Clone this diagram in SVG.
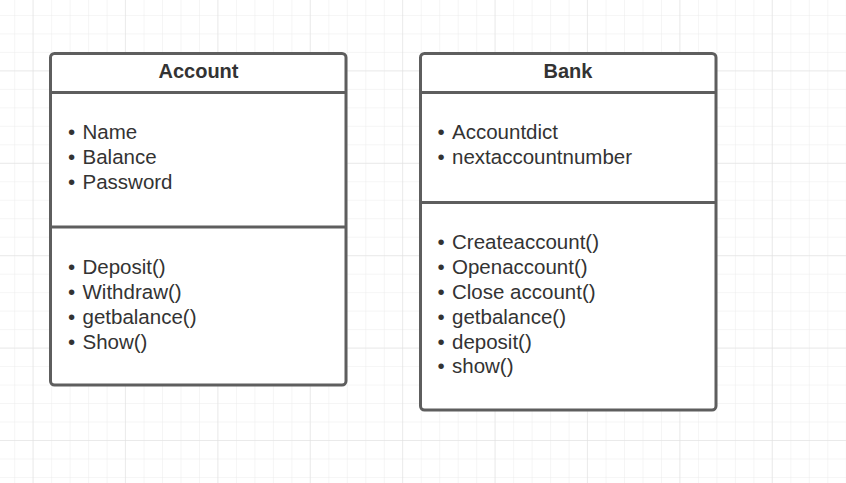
<svg xmlns="http://www.w3.org/2000/svg" width="846" height="483" viewBox="0 0 846 483">
<defs>
<pattern id="minor" patternUnits="userSpaceOnUse" x="14.2" y="14.96" width="18.48" height="18.48">
<path d="M0 0 H18.48 M0 0 V18.48" fill="none" stroke="#ececec" stroke-width="1"/>
</pattern>
<pattern id="major" patternUnits="userSpaceOnUse" x="32.5" y="70.4" width="92.4" height="92.4">
<path d="M0 0 H92.4 M0 0 V92.4" fill="none" stroke="#dfdfdf" stroke-width="1"/>
</pattern>
</defs>
<style>
.box{fill:#ffffff;stroke:#5e5e5e;stroke-width:3}
.div{stroke:#5e5e5e;stroke-width:3}
.title{font-family:"Liberation Sans",Arial,sans-serif;font-size:20px;font-weight:bold;fill:#333333;text-anchor:middle}
.item{font-family:"Liberation Sans",Arial,sans-serif;font-size:20.5px;fill:#333333}
</style>
<rect width="846" height="483" fill="#ffffff"/>
<rect width="846" height="483" fill="url(#minor)"/>
<rect width="846" height="483" fill="url(#major)"/>
<g id="connectors"></g>
<g id="account">
<rect class="box" x="50.5" y="53.5" width="295.5" height="331.5" rx="4"/>
<line class="div" x1="50.5" y1="92.5" x2="346" y2="92.5"/>
<line class="div" x1="50.5" y1="227" x2="346" y2="227"/>
<text class="title" x="198.5" y="77.5">Account</text>
<g class="item">
<text x="68" y="139">•</text><text x="82.5" y="139">Name</text>
<text x="68" y="164">•</text><text x="82.5" y="164">Balance</text>
<text x="68" y="189">•</text><text x="82.5" y="189">Password</text>
<text x="68" y="274">•</text><text x="82.5" y="274">Deposit()</text>
<text x="68" y="299">•</text><text x="82.5" y="299">Withdraw()</text>
<text x="68" y="323.5">•</text><text x="82.5" y="323.5">getbalance()</text>
<text x="68" y="348.5">•</text><text x="82.5" y="348.5">Show()</text>
</g>
</g>
<g id="bank">
<rect class="box" x="420.5" y="53.5" width="295.5" height="356.5" rx="4"/>
<line class="div" x1="420.5" y1="92.5" x2="716" y2="92.5"/>
<line class="div" x1="420.5" y1="202.5" x2="716" y2="202.5"/>
<text class="title" x="568" y="77.5">Bank</text>
<g class="item">
<text x="437.5" y="139">•</text><text x="452" y="139">Accountdict</text>
<text x="437.5" y="164">•</text><text x="452" y="164">nextaccountnumber</text>
<text x="437.5" y="249">•</text><text x="452" y="249">Createaccount()</text>
<text x="437.5" y="274">•</text><text x="452" y="274">Openaccount()</text>
<text x="437.5" y="299">•</text><text x="452" y="299">Close account()</text>
<text x="437.5" y="323.5">•</text><text x="452" y="323.5">getbalance()</text>
<text x="437.5" y="348.5">•</text><text x="452" y="348.5">deposit()</text>
<text x="437.5" y="373">•</text><text x="452" y="373">show()</text>
</g>
</g>
</svg>
